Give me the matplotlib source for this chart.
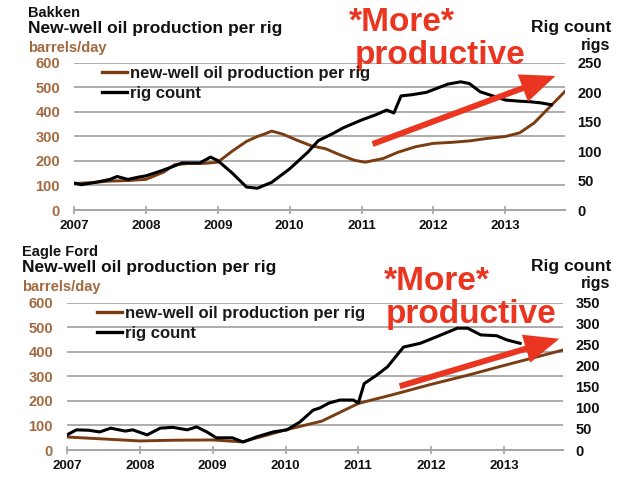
import matplotlib
matplotlib.use("Agg")
import matplotlib.pyplot as plt
from matplotlib.patches import FancyArrowPatch
from matplotlib.lines import Line2D

plt.rcParams['font.family'] = ['Liberation Sans', 'DejaVu Sans']

# ---------------- data ----------------
bakken_prod_x = [2007.0, 2007.25, 2007.5, 2007.75, 2008.0, 2008.25, 2008.4, 2008.6, 2008.8, 2009.0,
                 2009.2, 2009.4, 2009.55, 2009.65, 2009.75, 2009.9, 2010.1, 2010.3, 2010.5, 2010.7,
                 2010.9, 2011.05, 2011.3, 2011.5, 2011.75, 2012.0, 2012.25, 2012.5, 2012.75, 2013.0,
                 2013.2, 2013.4, 2013.6, 2013.83]
bakken_prod = [108, 112, 118, 120, 125, 155, 185, 190, 190, 195,
               240, 280, 300, 310, 322, 310, 285, 262, 250, 225,
               203, 195, 210, 235, 258, 272, 276, 282, 292, 300,
               315, 355, 415, 484]

bakken_rig_x = [2007.0, 2007.1, 2007.3, 2007.5, 2007.6, 2007.75, 2007.9, 2008.0, 2008.2, 2008.4,
                2008.5, 2008.75, 2008.9, 2009.0, 2009.2, 2009.4, 2009.55, 2009.75, 2010.0, 2010.25,
                2010.4, 2010.6, 2010.75, 2011.0, 2011.2, 2011.35, 2011.45, 2011.55, 2011.7, 2011.9,
                2012.05, 2012.2, 2012.38, 2012.5, 2012.65, 2012.8, 2013.0, 2013.2, 2013.35, 2013.5,
                2013.64]
bakken_rig = [46, 43, 47, 52, 57, 52, 56, 58, 66, 75,
              80, 80, 90, 84, 63, 39, 37, 47, 70, 98,
              118, 130, 140, 153, 162, 170, 165, 194, 196, 200,
              207, 214, 218, 215, 201, 195, 187, 185, 184, 182,
              179]

ef_prod_x = [2007.0, 2007.5, 2008.0, 2008.5, 2009.0, 2009.4, 2009.75, 2010.0, 2010.5, 2011.0,
             2011.5, 2012.0, 2012.5, 2013.0, 2013.4, 2013.81]
ef_prod = [53, 45, 37, 40, 41, 33, 61, 82, 118, 190,
           228, 268, 305, 345, 376, 408]

ef_rig_x = [2007.0, 2007.13, 2007.3, 2007.45, 2007.6, 2007.8, 2007.9, 2008.1, 2008.28, 2008.45,
            2008.65, 2008.78, 2008.92, 2009.05, 2009.27, 2009.42, 2009.6, 2009.83, 2010.02, 2010.2,
            2010.38, 2010.47, 2010.6, 2010.75, 2010.93, 2011.0, 2011.08, 2011.25, 2011.4, 2011.62,
            2011.85, 2012.08, 2012.36, 2012.5, 2012.68, 2012.9, 2013.04, 2013.22]
ef_rig = [36, 48, 47, 43, 52, 45, 48, 36, 52, 54,
          48, 55, 43, 29, 29, 19, 31, 43, 48, 67,
          95, 100, 112, 119, 119, 112, 158, 178, 198, 245,
          254, 270, 290, 290, 274, 272, 262, 254]

years = [2007, 2008, 2009, 2010, 2011, 2012, 2013]
prod_ticks = [0, 100, 200, 300, 400, 500, 600]
bakken_rig_ticks = [0, 50, 100, 150, 200, 250]
ef_rig_ticks = [0, 50, 100, 150, 200, 250, 300, 350]

regions = ["Bakken", "Eagle Ford"]
subtitle = "New-well oil production per rig"
label_prod = "new-well oil production per rig"
label_rig = "rig count"

# ---------------- style ----------------
BROWN = '#7a3d12'
BROWN_TXT = '#a3693f'
RED = '#ea3520'
GRID = '#a6a6a6'

fig = plt.figure(figsize=(6.4, 4.8), dpi=100)
fig.patch.set_facecolor('white')


def panel(rect, px, py, rx, ry, xmax, rmax, rticks):
    ax = fig.add_axes(rect)
    ax2 = ax.twinx()
    ax.set_xlim(2007, xmax)
    ax.set_ylim(0, 600)
    ax2.set_ylim(0, rmax)
    ax.set_yticks(prod_ticks)
    ax2.set_yticks(rticks)
    ax.set_xticks(years)
    ax.set_xticklabels([str(y) for y in years])
    ax.grid(axis='y', color=GRID, lw=1.3)
    ax.set_axisbelow(True)
    for a in (ax, ax2):
        for s in ('top', 'left', 'right'):
            a.spines[s].set_visible(False)
        a.spines['bottom'].set_color(GRID)
        a.spines['bottom'].set_linewidth(1.3)
    ax.tick_params(axis='y', length=0, pad=10, labelsize=10.5, labelcolor=BROWN_TXT)
    for t in ax.get_yticklabels():
        t.set_fontweight('bold')
    ax2.tick_params(axis='y', length=0, pad=9, labelsize=10.5, labelcolor='#111111')
    for t in ax2.get_yticklabels():
        t.set_fontweight('bold')
    ax.tick_params(axis='x', direction='inout', length=6, color=GRID, width=1.2,
                   pad=4, labelsize=9.5, labelcolor='#111111')
    for t in ax.get_xticklabels():
        t.set_fontweight('bold')
    ax2.tick_params(axis='x', length=0)
    ax.plot(px, py, color=BROWN, lw=2.1, solid_joinstyle='round', zorder=3)
    ax2.plot(rx, ry, color='black', lw=2.2, solid_joinstyle='round', zorder=3)
    return ax, ax2


ax_t, ax_t2 = panel([0.1156, 0.5625, 0.7672, 0.3063], bakken_prod_x, bakken_prod,
                    bakken_rig_x, bakken_rig, 2013.83, 250, bakken_rig_ticks)
ax_b, ax_b2 = panel([0.1047, 0.0625, 0.7750, 0.3063], ef_prod_x, ef_prod,
                    ef_rig_x, ef_rig, 2013.81, 350, ef_rig_ticks)

handles = [Line2D([], [], color=BROWN, lw=2.4), Line2D([], [], color='black', lw=2.4)]
for x0, y0 in [(0.160, 0.863), (0.152, 0.363)]:
    leg = fig.legend(handles, [label_prod, label_rig], loc='upper left',
                     bbox_to_anchor=(x0, y0), frameon=False, handlelength=1.5,
                     handletextpad=0.15, labelspacing=0.3, borderpad=0,
                     borderaxespad=0, prop={'size': 12, 'weight': 'bold'})
    for t in leg.get_texts():
        t.set_color('#1a1a1a')

# titles
for (x, y1, y2, y3), name in zip([(0.044, 0.972, 0.9396, 0.900), (0.034, 0.474, 0.443, 0.402)], regions):
    fig.text(x, y1, name, fontsize=10.5, fontweight='bold', va='center', ha='left', color='#111111')
    fig.text(x, y2, subtitle, fontsize=12.5, fontweight='bold', va='center', ha='left', color='#111111')
    fig.text(x, y3, 'barrels/day', fontsize=10.5, fontweight='bold', va='center', ha='left', color=BROWN_TXT)

for y1, y2 in [(0.942, 0.906), (0.444, 0.410)]:
    fig.text(0.955, y1, 'Rig count', fontsize=12.5, fontweight='bold', va='center', ha='right', color='#111111')
    fig.text(0.953, y2, 'rigs', fontsize=11.5, fontweight='bold', va='center', ha='right', color='#111111')

# annotations
for (m, p) in [((0.628, 0.954), (0.6875, 0.885)), ((0.683, 0.4125), (0.736, 0.344))]:
    fig.text(m[0], m[1], '*More*', fontsize=24, fontweight='bold', color=RED, ha='center', va='center')
    fig.text(p[0], p[1], 'productive', fontsize=24, fontweight='bold', color=RED, ha='center', va='center')

for tail, tip in [((370, 335), (558, 405)), ((397, 93), (562, 142))]:
    arr = FancyArrowPatch(tail, tip, transform=None,
                          arrowstyle='simple,head_length=25,head_width=21,tail_width=4.3',
                          mutation_scale=1, color=RED, lw=0, zorder=10)
    fig.patches.append(arr)

fig.savefig('out.png', dpi=100)
